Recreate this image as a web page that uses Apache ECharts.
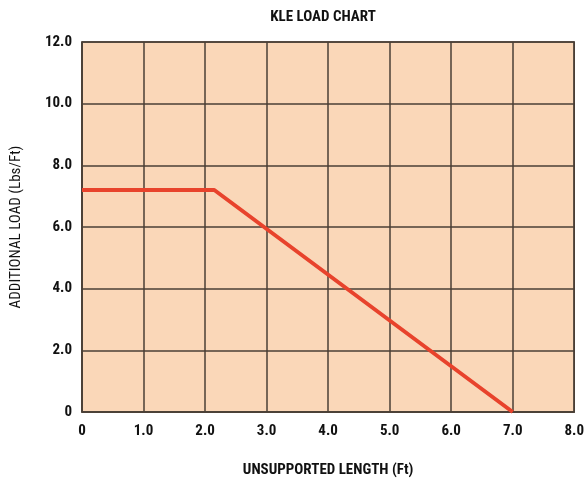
<!DOCTYPE html>
<html>
<head>
<meta charset="utf-8">
<script src="https://cdn.jsdelivr.net/npm/echarts@6/dist/echarts.min.js"></script>
<style>
    html, body { margin: 0; padding: 0; background: #ffffff; }
    #chart { width: 587px; height: 485px; }
</style>
</head>
<body>
<div id="chart"></div>
<script>
// 数据
const lengthFt = [0, 2.15, 7.0]
const loadLbs = [7.2, 7.2, 0]
const xTicks = [0, 1, 2, 3, 4, 5, 6, 7, 8]
const yTicks = [0, 2, 4, 6, 8, 10, 12]

const font = '"Liberation Sans Narrow", "Roboto Condensed", "Liberation Sans", sans-serif'
const tickFmt = v => (v === 0 ? '0' : v.toFixed(1))

const chart = echarts.init(document.getElementById('chart'))
const option = {
    animation: false,
    title: {
        text: 'KLE LOAD CHART',
        left: 318,
        top: 5,
        textAlign: 'center',
        textStyle: { fontFamily: font, fontWeight: 'bold', fontSize: 15, color: '#111' }
    },
    grid: {
        left: 82,
        right: 10,
        top: 42,
        bottom: 73,
        show: true,
        backgroundColor: '#fad7b8',
        borderColor: '#4a3f36',
        borderWidth: 1.5
    },
    xAxis: {
        type: 'value',
        min: xTicks[0],
        max: xTicks[xTicks.length - 1],
        interval: 1,
        name: 'UNSUPPORTED LENGTH (Ft)',
        nameLocation: 'middle',
        nameGap: 51,
        nameTextStyle: { fontFamily: font, fontWeight: 'bold', fontSize: 15, color: '#111' },
        axisLine: { show: true, lineStyle: { color: '#4a3f36', width: 1.5 } },
        axisTick: { show: false },
        axisLabel: { formatter: tickFmt, margin: 12, fontFamily: font, fontWeight: 'bold', fontSize: 15, color: '#111' },
        splitLine: { show: true, lineStyle: { color: '#4a3f36', width: 1.5 } }
    },
    yAxis: {
        type: 'value',
        min: yTicks[0],
        max: yTicks[yTicks.length - 1],
        interval: 2,
        name: 'ADDITIONAL LOAD (Lbs/Ft)',
        nameLocation: 'middle',
        nameGap: 58,
        nameTextStyle: { fontFamily: font, fontWeight: 'normal', fontSize: 15, color: '#111' },
        axisLine: { show: true, lineStyle: { color: '#4a3f36', width: 1.5 } },
        axisTick: { show: false },
        axisLabel: { formatter: tickFmt, margin: 10, fontFamily: font, fontWeight: 'bold', fontSize: 15, color: '#111' },
        splitLine: { show: true, lineStyle: { color: '#4a3f36', width: 1.5 } }
    },
    series: [{
        type: 'line',
        data: lengthFt.map((x, i) => [x, loadLbs[i]]),
        symbol: 'none',
        lineStyle: { color: '#e8432c', width: 4 }
    }]
}
chart.setOption(option)
window.addEventListener('resize', () => { chart.resize() })
</script>
</body>
</html>
